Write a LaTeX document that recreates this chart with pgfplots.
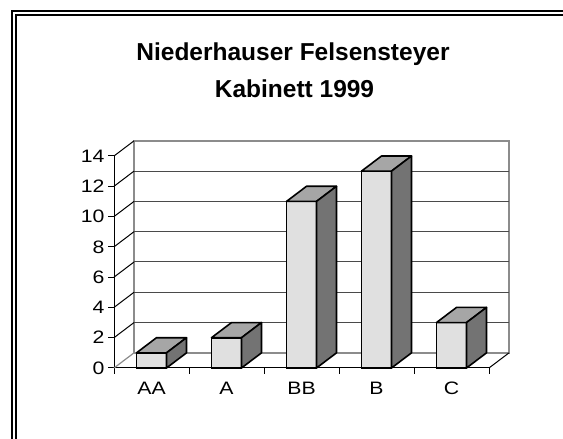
\documentclass[border=0pt]{standalone}
\usepackage{pgfplots}
\pgfplotsset{compat=1.18}
\usepackage{fontspec}
\setmainfont{Liberation Sans}
\newfontfamily\tickfont[FakeStretch=1.18]{Liberation Sans}
\definecolor{frontc}{HTML}{E0E0E0}
\definecolor{topc}{HTML}{A6A6A6}
\definecolor{sidec}{HTML}{737373}
\definecolor{wallc}{HTML}{8C8C8C}
\definecolor{gridc}{HTML}{4A4A4A}
\begin{document}
\begin{tikzpicture}[x=1pt,y=1pt]
\path[use as bounding box] (0,0) rectangle (563,439);
\fill[white] (0,0) rectangle (563,439);
\draw[line width=2pt] (12,0) -- (12,428) -- (563,428);
\draw[line width=1.6pt] (16,0) -- (16,424) -- (563,424);
\node[font=\bfseries\fontsize{24.5}{30}\selectfont, anchor=base] at (293,378) {Niederhauser Felsensteyer};
\node[font=\bfseries\fontsize{24.5}{30}\selectfont, anchor=base] at (294.5,341) {Kabinett 1999};
\begin{axis}[
  at={(114pt,71pt)}, anchor=origin,
  scale only axis, width=375pt, height=212pt,
  xmin=0, xmax=5, ymin=0, ymax=14,
  axis lines=left, axis line style={-, line width=1pt, black},
  clip=false,
  xtick={0,1,2,3,4,5}, xticklabels={},
  extra x ticks={0.5,1.5,2.5,3.5,4.5},
  extra x tick labels={AA,A,BB,B,C},
  extra x tick style={major tick length=0pt, xticklabel style={yshift=-10pt, text height=13pt, text depth=0pt}},
  ytick={0,2,4,6,8,10,12,14},
  tick align=outside,
  major tick length=6pt,
  tick style={black, line width=1pt},
  tick label style={font=\tickfont\fontsize{18}{20}\selectfont},
  /pgf/number format/assume math mode=true,
]
% back wall and floor
\draw[wallc, line width=1.5pt] (axis cs:0.2667,1) -- (axis cs:0.2667,15) -- (axis cs:5.2667,15) -- (axis cs:5.2667,1) -- cycle;
\draw[gridc, line width=1pt] (axis cs:0.2667,3) -- (axis cs:5.2667,3);
\draw[gridc, line width=1pt] (axis cs:0.2667,5) -- (axis cs:5.2667,5);
\draw[gridc, line width=1pt] (axis cs:0.2667,7) -- (axis cs:5.2667,7);
\draw[gridc, line width=1pt] (axis cs:0.2667,9) -- (axis cs:5.2667,9);
\draw[gridc, line width=1pt] (axis cs:0.2667,11) -- (axis cs:5.2667,11);
\draw[gridc, line width=1pt] (axis cs:0.2667,13) -- (axis cs:5.2667,13);
\draw[wallc, line width=1.2pt] (axis cs:0,0) -- (axis cs:0.2667,1);
\draw[black, line width=1pt] (axis cs:0,2) -- (axis cs:0.2667,3);
\draw[black, line width=1pt] (axis cs:0,4) -- (axis cs:0.2667,5);
\draw[black, line width=1pt] (axis cs:0,6) -- (axis cs:0.2667,7);
\draw[black, line width=1pt] (axis cs:0,8) -- (axis cs:0.2667,9);
\draw[black, line width=1pt] (axis cs:0,10) -- (axis cs:0.2667,11);
\draw[black, line width=1pt] (axis cs:0,12) -- (axis cs:0.2667,13);
\draw[black, line width=1pt] (axis cs:0,14) -- (axis cs:0.2667,15);
\draw[black, line width=1pt] (axis cs:5,0) -- (axis cs:5.2667,1);
% bars: front faces
\addplot[ybar, bar width=30pt, fill=frontc, draw=black, line width=1.6pt]
  coordinates {(0.5,1) (1.5,2) (2.5,11) (3.5,13) (4.5,3)};
% top faces
\addplot[fill=topc, draw=black, line width=1.6pt, line join=round] coordinates {(0.3,1) (0.7,1) (0.9667,2) (0.5667,2)} -- cycle;
\addplot[fill=topc, draw=black, line width=1.6pt, line join=round] coordinates {(1.3,2) (1.7,2) (1.9667,3) (1.5667,3)} -- cycle;
\addplot[fill=topc, draw=black, line width=1.6pt, line join=round] coordinates {(2.3,11) (2.7,11) (2.9667,12) (2.5667,12)} -- cycle;
\addplot[fill=topc, draw=black, line width=1.6pt, line join=round] coordinates {(3.3,13) (3.7,13) (3.9667,14) (3.5667,14)} -- cycle;
\addplot[fill=topc, draw=black, line width=1.6pt, line join=round] coordinates {(4.3,3) (4.7,3) (4.9667,4) (4.5667,4)} -- cycle;
% side faces
\addplot[fill=sidec, draw=black, line width=1.6pt, line join=round] coordinates {(0.7,0) (0.9667,1) (0.9667,2) (0.7,1)} -- cycle;
\addplot[fill=sidec, draw=black, line width=1.6pt, line join=round] coordinates {(1.7,0) (1.9667,1) (1.9667,3) (1.7,2)} -- cycle;
\addplot[fill=sidec, draw=black, line width=1.6pt, line join=round] coordinates {(2.7,0) (2.9667,1) (2.9667,12) (2.7,11)} -- cycle;
\addplot[fill=sidec, draw=black, line width=1.6pt, line join=round] coordinates {(3.7,0) (3.9667,1) (3.9667,14) (3.7,13)} -- cycle;
\addplot[fill=sidec, draw=black, line width=1.6pt, line join=round] coordinates {(4.7,0) (4.9667,1) (4.9667,4) (4.7,3)} -- cycle;
\end{axis}
\end{tikzpicture}
\end{document}
